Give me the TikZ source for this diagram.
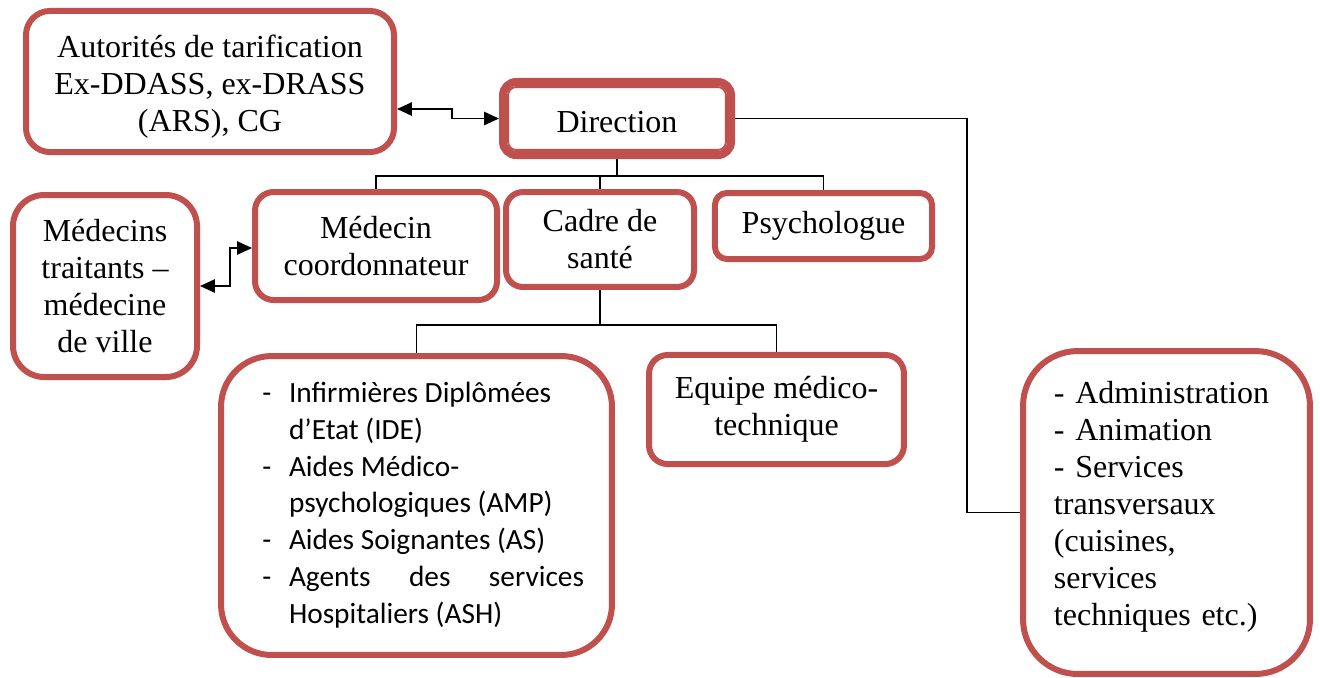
\documentclass[tikz,border=0pt]{standalone}
\usepackage{fontspec}
\setmainfont{Liberation Serif}
\newfontfamily\calibri{Carlito}
\usetikzlibrary{
    arrows.meta,
    backgrounds
}
\definecolor{boxred}{HTML}{C0504D}

\begin{document}
\begin{tikzpicture}[
    x=0.375pt, y=-0.375pt,
    font=\fontsize{12}{13.9}\selectfont,
    box/.style={
        rectangle,
        rounded corners=#1,
        draw=boxred,
        line width=2.25pt,
        align=center,
        fill=white,
        inner sep=0pt
    },
    box/.default=7pt,
    biarrow/.style={
        {Triangle[length=5.6pt,width=5pt]}-{Triangle[length=5.6pt,width=5pt]},
        line width=0.6pt
    },
    link/.style={
        line width=0.6pt,
        draw=black
    }
]
\useasboundingbox (0,0) rectangle (1320,677);

% =========================================================
% Top: authorities and direction
% =========================================================
\node[box=9pt, minimum width=138pt, minimum height=52.9pt] (aut) at (210,81.5)
{\rule{0pt}{12pt}Autorités de tarification\\Ex-DDASS, ex-DRASS\\(ARS), CG};

\node[box=5pt, line width=3pt, minimum width=85.5pt, minimum height=27.4pt] (dir) at (617,118.5)
{\rule{0pt}{10.3pt}Direction};
\draw[boxred, line width=0.75pt, rounded corners=3pt]
    ([shift={(3.4pt,-3.4pt)}]dir.north west) rectangle ([shift={(-3.4pt,3.4pt)}]dir.south east);

% =========================================================
% Middle: medical staff
% =========================================================
\node[box=11.7pt, minimum width=69pt, minimum height=68.25pt] (mt) at (105,286)
{Médecins\\traitants –\\médecine\\de ville};

\node[box=7pt, minimum width=90.75pt, minimum height=40.5pt] (med) at (376,246)
{Médecin\\coordonnateur};

\node[box=6.3pt, minimum width=70.5pt, minimum height=35.6pt] (cadre) at (600,239.5)
{Cadre de\\santé};

\node[box=4.5pt, minimum width=81.4pt, minimum height=24.75pt] (psy) at (823.5,226)
{Psychologue};

% =========================================================
% Bottom: care teams and services
% =========================================================
\node[box=19pt, minimum width=146.6pt, minimum height=112.1pt,
    font=\calibri\fontsize{11}{13.8}\selectfont] (ide) at (416.5,505.5)
{\begin{tabular}{@{\hspace{5pt}}p{10pt}@{}l@{}}
-& Infirmières Diplômées\\
 & d’Etat (IDE)\\
-& Aides Médico-\\
 & psychologiques (AMP)\\
-& Aides Soignantes (AS)\\
-& \makebox[110.6pt][s]{Agents des services}\\
 & Hospitaliers (ASH)
\end{tabular}};

\node[box=7pt, minimum width=95.6pt, minimum height=40.9pt] (eq) at (776.5,409.5)
{Equipe médico-\\technique};

\node[box=20.5pt, minimum width=107.6pt, minimum height=121.1pt,
    text width=84.4pt, align=left] (adm) at (1166.5,512.5)
{- Administration\\- Animation\\- Services\\transversaux\\(cuisines,\\services\\techniques etc.)\rule[-7pt]{0pt}{0pt}};

% =========================================================
% Connectors
% =========================================================
\begin{scope}[on background layer]
\draw[link] (dir.south) -- ++(0,17) coordinate (hub);
\foreach \n in {med,cadre,psy}
    \draw[link] (\n.north) |- (hub);

\draw[link] (cadre.south) -- ++(0,35) coordinate (hubb);
\foreach \n in {ide,eq}
    \draw[link] (\n.north) |- (hubb);

\draw[link] (dir.east) -- ++(232,0) |- (adm.west);
\end{scope}

\draw[biarrow] (aut.east |- 0,109) -- ++(55,0) |- (dir.west);
\draw[biarrow] (mt.east) -- ++(30,0) |- (med.west |- 0,248);

\end{tikzpicture}
\end{document}
